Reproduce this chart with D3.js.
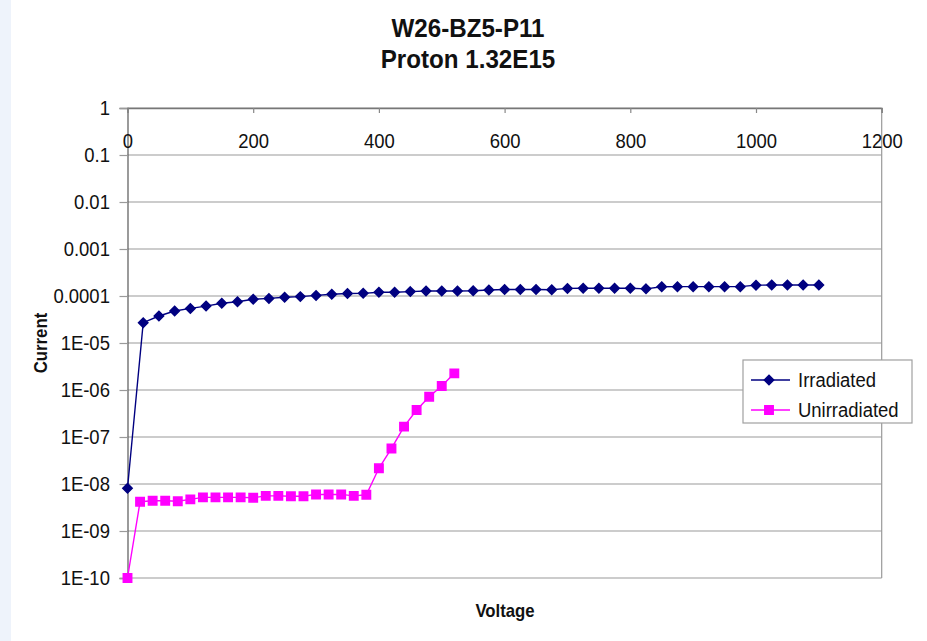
<!DOCTYPE html>
<html>
<head>
<meta charset="utf-8">
<script src="https://cdn.jsdelivr.net/npm/d3@7/dist/d3.min.js"></script>
<style>
  html, body { margin: 0; padding: 0; background: #ffffff; }
  svg { display: block; }
  text { font-family: "Liberation Sans", Arial, sans-serif; fill: #111; }
</style>
</head>
<body>
<svg id="chart" width="927" height="641"></svg>
<script>
// IV scan of sensor W26-BZ5-P11, before and after proton irradiation
const titleLines = ["W26-BZ5-P11", "Proton 1.32E15"];
const xTitle = "Voltage";
const yTitle = "Current";

const xTicks = [0, 200, 400, 600, 800, 1000, 1200];
const yTicks = [1, 0.1, 0.01, 0.001, 0.0001, 1e-5, 1e-6, 1e-7, 1e-8, 1e-9, 1e-10];
const yTickLabels = ["1", "0.1", "0.01", "0.001", "0.0001", "1E-05", "1E-06", "1E-07", "1E-08", "1E-09", "1E-10"];

// Irradiated: 0 V to 1100 V in 25 V steps
const irrVoltage = [0, 25, 50, 75, 100, 125, 150, 175, 200, 225, 250, 275, 300, 325, 350, 375, 400,
  425, 450, 475, 500, 525, 550, 575, 600, 625, 650, 675, 700, 725, 750, 775, 800, 825, 850, 875,
  900, 925, 950, 975, 1000, 1025, 1050, 1075, 1100];
const irrCurrent = [8.1e-9, 2.7e-5, 3.75e-5, 4.8e-5, 5.45e-5, 6.1e-5, 7.0e-5, 7.55e-5, 8.5e-5, 8.9e-5,
  9.4e-5, 9.7e-5, 1.03e-4, 1.09e-4, 1.13e-4, 1.14e-4, 1.2e-4, 1.2e-4, 1.24e-4, 1.28e-4, 1.28e-4,
  1.28e-4, 1.29e-4, 1.34e-4, 1.37e-4, 1.38e-4, 1.38e-4, 1.36e-4, 1.45e-4, 1.46e-4, 1.46e-4,
  1.46e-4, 1.46e-4, 1.42e-4, 1.57e-4, 1.58e-4, 1.58e-4, 1.58e-4, 1.58e-4, 1.58e-4, 1.7e-4,
  1.71e-4, 1.71e-4, 1.71e-4, 1.71e-4];

// Unirradiated: 0 V to 520 V in 20 V steps
const unirrVoltage = [0, 20, 40, 60, 80, 100, 120, 140, 160, 180, 200, 220, 240, 260, 280, 300,
  320, 340, 360, 380, 400, 420, 440, 460, 480, 500, 520];
const unirrCurrent = [1.0e-10, 4.2e-9, 4.4e-9, 4.4e-9, 4.3e-9, 4.7e-9, 5.2e-9, 5.2e-9, 5.2e-9,
  5.2e-9, 5.1e-9, 5.6e-9, 5.6e-9, 5.5e-9, 5.5e-9, 6.0e-9, 6.0e-9, 6.0e-9, 5.6e-9, 5.9e-9,
  2.16e-8, 5.7e-8, 1.66e-7, 3.75e-7, 7.2e-7, 1.22e-6, 2.26e-6];

const seriesNames = ["Irradiated", "Unirradiated"];
const seriesColors = ["#000080", "#ff00ff"];

const svg = d3.select("#chart");
const W = 927, H = 641;
const plot = { left: 127.5, right: 881.7, top: 108, bottom: 578 };
const narrow = "scale(0.88,1)";

// pale strip at the left edge of the page
svg.append("rect").attr("x", 0).attr("y", 0).attr("width", 11).attr("height", H).attr("fill", "#eef3fb");

const x = d3.scaleLinear().domain([0, 1200]).range([plot.left, plot.right]);
const y = d3.scaleLog().domain([1e-10, 1]).range([plot.bottom, plot.top]);

// horizontal gridlines at each decade
svg.append("g").selectAll("line").data(yTicks).join("line")
  .attr("x1", plot.left).attr("x2", plot.right)
  .attr("y1", d => y(d)).attr("y2", d => y(d))
  .attr("stroke", "#9a9a9a").attr("stroke-width", 1.2);

// right edge of the plot area
svg.append("line")
  .attr("x1", plot.right).attr("x2", plot.right)
  .attr("y1", plot.top).attr("y2", plot.bottom)
  .attr("stroke", "#9a9a9a").attr("stroke-width", 1.2);

// value axis (log)
const yAxis = d3.axisLeft(y).tickValues(yTicks)
  .tickFormat((d, i) => yTickLabels[i]).tickSize(8).tickPadding(12);
const gy = svg.append("g").attr("transform", `translate(${plot.left},0)`).call(yAxis);
gy.select(".domain").attr("stroke", "#666").attr("stroke-width", 1.3);
gy.selectAll(".tick line").attr("stroke", "#9a9a9a").attr("stroke-width", 1.2);
gy.selectAll(".tick text").attr("font-size", 21).attr("fill", "#111").attr("transform", narrow)
  .attr("font-family", "'Liberation Sans', Arial, sans-serif");

// voltage axis crosses the value axis at 1
const xAxis = d3.axisBottom(x).tickValues(xTicks).tickFormat(d3.format("d"))
  .tickSize(5).tickPadding(20);
const gx = svg.append("g").attr("transform", `translate(0,${plot.top})`).call(xAxis);
gx.select(".domain").attr("stroke", "#777").attr("stroke-width", 1.3);
gx.selectAll(".tick line").attr("stroke", "#888").attr("stroke-width", 1.2);
gx.selectAll(".tick text").attr("font-size", 21).attr("fill", "#111").attr("transform", narrow)
  .attr("font-family", "'Liberation Sans', Arial, sans-serif");

// titles
svg.append("g").selectAll("text").data(titleLines).join("text")
  .attr("transform", (d, i) => `translate(468,${37 + i * 31}) scale(0.93,1)`)
  .attr("text-anchor", "middle").attr("font-size", 26).attr("font-weight", "bold")
  .text(d => d);

svg.append("text").attr("transform", "translate(505,617) scale(0.93,1)").attr("text-anchor", "middle")
  .attr("font-size", 18).attr("font-weight", "bold").text(xTitle);

svg.append("text").attr("transform", "translate(47,343) rotate(-90) scale(0.93,1)")
  .attr("text-anchor", "middle").attr("font-size", 18).attr("font-weight", "bold").text(yTitle);

// series
const line = d3.line().x(d => x(d[0])).y(d => y(d[1]));
const irr = irrVoltage.map((v, i) => [v, irrCurrent[i]]);
const unirr = unirrVoltage.map((v, i) => [v, unirrCurrent[i]]);

const diamond = d3.symbol().type(d3.symbolDiamond2).size(56);
const square = d3.symbol().type(d3.symbolSquare2).size(90);

function drawSeries(data, color, sym) {
  const g = svg.append("g");
  g.append("path").datum(data).attr("d", line)
    .attr("fill", "none").attr("stroke", color).attr("stroke-width", 1.4);
  g.selectAll("path.m").data(data).join("path").attr("class", "m")
    .attr("transform", d => `translate(${x(d[0])},${y(d[1])})`)
    .attr("d", sym).attr("fill", color).attr("stroke", color).attr("stroke-width", 1.5);
}
drawSeries(irr, seriesColors[0], diamond);
drawSeries(unirr, seriesColors[1], square);

// legend
const lg = svg.append("g").attr("transform", "translate(743,360)");
lg.append("rect").attr("width", 169).attr("height", 63)
  .attr("fill", "#fff").attr("stroke", "#a0a0a0").attr("stroke-width", 1.2);
const syms = [diamond, square];
seriesNames.forEach((name, i) => {
  const cy = 20 + i * 30;
  lg.append("line").attr("x1", 8).attr("x2", 47).attr("y1", cy).attr("y2", cy)
    .attr("stroke", seriesColors[i]).attr("stroke-width", 1.4);
  lg.append("path").attr("transform", `translate(26,${cy})`).attr("d", syms[i])
    .attr("fill", seriesColors[i]).attr("stroke", seriesColors[i]).attr("stroke-width", 1.5);
  lg.append("text").attr("transform", `translate(55,${cy + 7}) ${narrow}`)
    .attr("font-size", 21).text(name);
});
</script>
</body>
</html>
